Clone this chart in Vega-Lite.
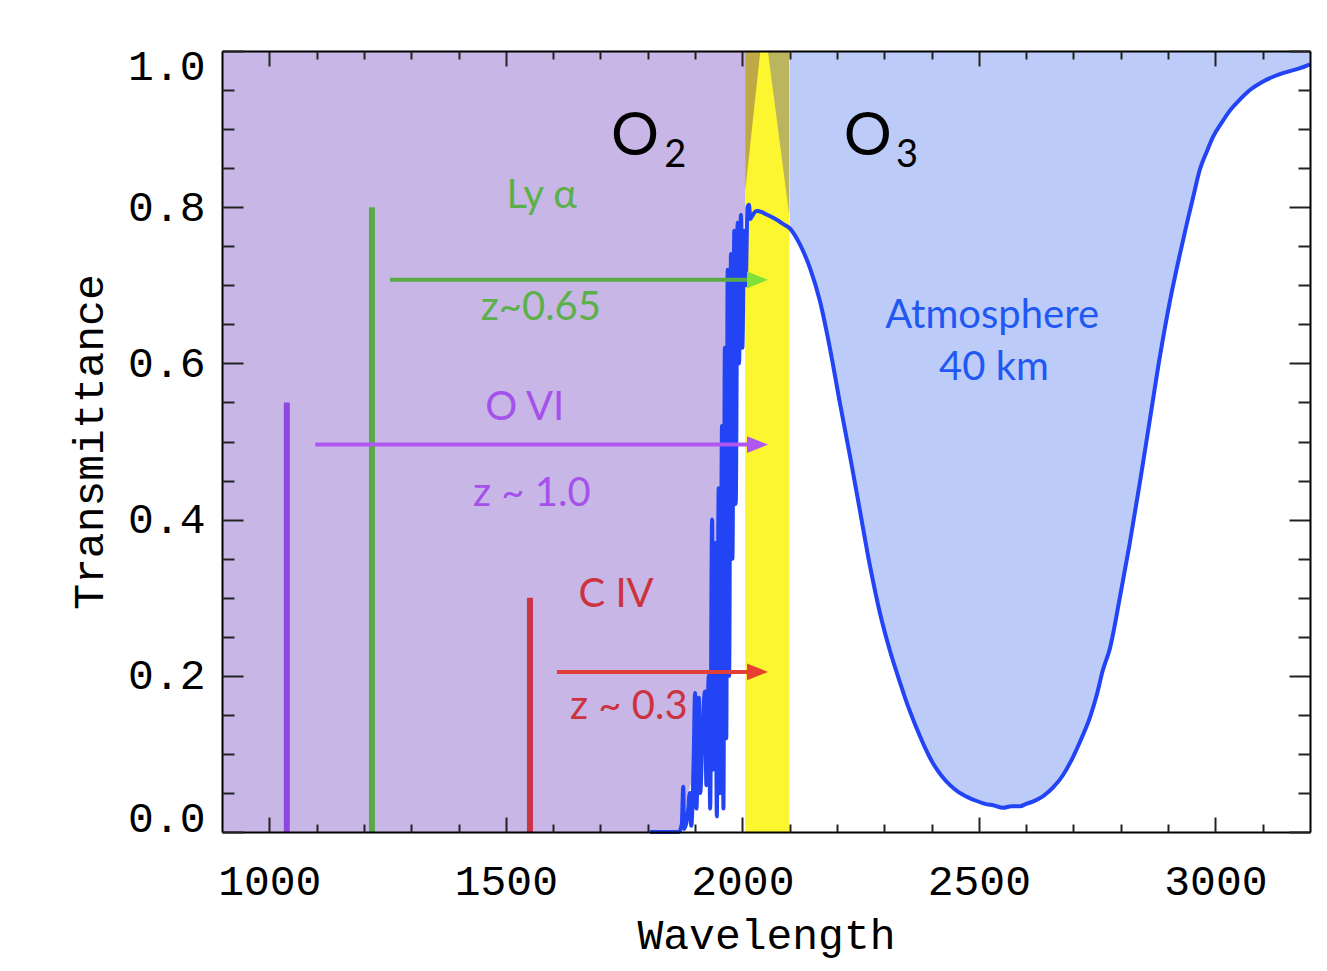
{
  "$schema": "https://vega.github.io/schema/vega-lite/v6.json",
  "width": 1088,
  "height": 781,
  "autosize": {"type": "none"},
  "padding": {"left": 222, "top": 51, "right": 17, "bottom": 139},
  "background": "white",
  "config": {"view": {"stroke": null}, "axis": {"grid": false, "zindex": 1}},
  "datasets": {
    "trans": [
      {"w":1805,"t":0},{"w":1866,"t":0},{"w":1872,"t":0.01},{"w":1875,"t":0.058},{"w":1877,"t":0.004},{"w":1884,"t":0.02},{"w":1889,"t":0.05},{"w":1892,"t":0.008},{"w":1897,"t":0.09},{"w":1900,"t":0.178},{"w":1903,"t":0.03},{"w":1908,"t":0.172},{"w":1911,"t":0.05},{"w":1916,"t":0.13},{"w":1921,"t":0.18},{"w":1924,"t":0.06},{"w":1929,"t":0.2},{"w":1932,"t":0.03},{"w":1936,"t":0.40},{"w":1939,"t":0.08},{"w":1943,"t":0.37},{"w":1946,"t":0.02},{"w":1950,"t":0.44},{"w":1953,"t":0.05},{"w":1957,"t":0.52},{"w":1960,"t":0.03},{"w":1963,"t":0.62},{"w":1966,"t":0.12},{"w":1969,"t":0.72},{"w":1972,"t":0.2},{"w":1976,"t":0.74},{"w":1979,"t":0.35},{"w":1983,"t":0.77},{"w":1986,"t":0.42},{"w":1990,"t":0.78},{"w":1993,"t":0.6},{"w":1997,"t":0.79},{"w":2000,"t":0.62},{"w":2004,"t":0.77},{"w":2007,"t":0.7},{"w":2011,"t":0.80},{"w":2014,"t":0.803},{"w":2017,"t":0.785},{"w":2022,"t":0.79},{"w":2030,"t":0.795},{"w":2040,"t":0.794},{"w":2050,"t":0.791},{"w":2060,"t":0.788},{"w":2070,"t":0.785},{"w":2080,"t":0.781},{"w":2090,"t":0.777},{"w":2100,"t":0.773},
      {"w":2122,"t":0.752},{"w":2143,"t":0.722},{"w":2164,"t":0.68},{"w":2185,"t":0.62},{"w":2206,"t":0.55},{"w":2228,"t":0.48},{"w":2249,"t":0.41},{"w":2270,"t":0.34},{"w":2291,"t":0.28},{"w":2312,"t":0.232},{"w":2333,"t":0.192},{"w":2349,"t":0.163},{"w":2365,"t":0.138},{"w":2384,"t":0.111},{"w":2403,"t":0.088},{"w":2421,"t":0.072},{"w":2439,"t":0.06},{"w":2457,"t":0.051},{"w":2475,"t":0.045},{"w":2494,"t":0.04},{"w":2513,"t":0.036},{"w":2532,"t":0.034},{"w":2551,"t":0.031},{"w":2569,"t":0.033},{"w":2587,"t":0.033},{"w":2600,"t":0.036},{"w":2614,"t":0.039},{"w":2636,"t":0.046},{"w":2657,"t":0.057},{"w":2678,"t":0.073},{"w":2699,"t":0.096},{"w":2717,"t":0.12},{"w":2735,"t":0.147},{"w":2749,"t":0.175},{"w":2762,"t":0.207},{"w":2777,"t":0.235},{"w":2798,"t":0.30},{"w":2819,"t":0.37},{"w":2841,"t":0.45},{"w":2862,"t":0.53},{"w":2883,"t":0.61},{"w":2904,"t":0.68},{"w":2925,"t":0.74},{"w":2940,"t":0.78},{"w":2953,"t":0.813},{"w":2967,"t":0.848},{"w":2981,"t":0.87},{"w":2995,"t":0.89},{"w":3013,"t":0.908},{"w":3031,"t":0.924},{"w":3052,"t":0.938},{"w":3073,"t":0.95},{"w":3098,"t":0.96},{"w":3122,"t":0.967},{"w":3150,"t":0.973},{"w":3179,"t":0.978},{"w":3196,"t":0.982},{"w":3200,"t":0.983}
    ],
    "o2fill": [
      {"w":900,"t":0},{"w":1868,"t":0},{"w":1905,"t":0.1},{"w":1931,"t":0.195},{"w":1953,"t":0.425},{"w":1991,"t":0.608},{"w":2000,"t":0.72},{"w":2006,"t":0.8}
    ],
    "band": [{"w0":2006,"w1":2099}],
    "wedges": [
      {"side":"L","w":2006,"t":0.82},{"side":"L","w":2038,"t":1.0},
      {"side":"R","w":2054,"t":1.0},{"side":"R","w":2099,"t":0.79}
    ],
    "emis": [
      {"ion":"OVI","w":1037,"top":0.55},{"ion":"Lya","w":1217,"top":0.80},{"ion":"CIV","w":1551,"top":0.30}
    ],
    "arrows": [
      {"ion":"Lya","w0":1255,"w1":2012,"head":2032,"t":0.707},
      {"ion":"OVI","w0":1097,"w1":2012,"head":2032,"t":0.496},
      {"ion":"CIV","w0":1608,"w1":2012,"head":2032,"t":0.205}
    ],
    "labels": [
      {"ion":"Lya","text":"Ly α","w":1576,"t":0.814},
      {"ion":"Lya","text":"z~0.65","w":1574,"t":0.671},
      {"ion":"OVI","text":"O VI","w":1540,"t":0.543},
      {"ion":"OVI","text":"z ~ 1.0","w":1555,"t":0.433},
      {"ion":"CIV","text":"C IV","w":1733,"t":0.303},
      {"ion":"CIV","text":"z ~ 0.3","w":1760,"t":0.160},
      {"ion":"Atm","text":"Atmosphere","w":2528,"t":0.661},
      {"ion":"Atm","text":"40 km","w":2532,"t":0.594}
    ],
    "mol": [
      {"part":"O","text":"O","w":1773,"t":0.89},
      {"part":"O","text":"O","w":2265,"t":0.89},
      {"part":"sub","text":"2","w":1858,"t":0.866},
      {"part":"sub","text":"3","w":2348,"t":0.866}
    ]
  },
  "resolve": {"axis": {"x": "independent", "y": "independent"}, "scale": {"color": "independent"}},
  "layer": [
    {
      "data": {"name": "o2fill"},
      "mark": {"type": "area", "color": "#c8b7e6", "opacity": 1},
      "encoding": {
        "x": {"field": "w", "type": "quantitative", "scale": {"domain": [900, 3200], "nice": false, "zero": false},
          "axis": {"orient": "bottom", "zindex": 2, "values": [1000,1500,2000,2500,3000], "format": "d", "ticks": false, "domain": true, "domainColor": "black", "domainWidth": 2,
            "labelFont": "Liberation Mono", "labelFontSize": 43, "labelColor": "black", "labelPadding": 28,
            "title": "Wavelength", "titleFont": "Liberation Mono", "titleFontSize": 43, "titleFontWeight": "normal", "titleColor": "black", "titlePadding": 11}},
        "y": {"field": "t", "type": "quantitative", "stack": null, "scale": {"domain": [0, 1], "nice": false, "zero": false},
          "axis": {"orient": "left", "zindex": 2, "values": [0,0.2,0.4,0.6,0.8,1], "format": ".1f", "ticks": false, "domain": true, "domainColor": "black", "domainWidth": 2,
            "labelFont": "Liberation Mono", "labelFontSize": 43, "labelColor": "black", "labelPadding": 17,
            "labelOffset": {"condition": [{"test": "datum.value == 1", "value": 15}, {"test": "datum.value == 0", "value": -14}], "value": 0},
            "title": "Transmittance", "titleFont": "Liberation Mono", "titleFontSize": 43, "titleFontWeight": "normal", "titleColor": "black", "titlePadding": 16}},
        "y2": {"datum": 1}
      }
    },
    {
      "data": {"name": "trans"},
      "transform": [{"filter": "datum.w >= 2099"}],
      "mark": {"type": "area", "color": "#bdcbf8", "opacity": 1, "interpolate": "monotone"},
      "encoding": {
        "x": {"field": "w", "type": "quantitative",
          "axis": {"orient": "bottom", "zindex": 2, "values": [1000,1500,2000,2500,3000], "labels": false, "domain": false, "tickSize": -15, "tickWidth": 2, "tickColor": "#222222", "title": null}},
        "y": {"field": "t", "type": "quantitative", "stack": null,
          "axis": {"orient": "left", "zindex": 2, "values": [0,0.2,0.4,0.6,0.8,1], "labels": false, "domain": false, "tickSize": -21, "tickWidth": 2, "tickColor": "#222222", "title": null}},
        "y2": {"datum": 1}
      }
    },
    {
      "data": {"name": "band"},
      "mark": {"type": "rect", "color": "#fcf630", "opacity": 1},
      "encoding": {
        "x": {"field": "w0", "type": "quantitative",
          "axis": {"orient": "bottom", "zindex": 2, "values": [1100,1200,1300,1400,1600,1700,1800,1900,2100,2200,2300,2400,2600,2700,2800,2900,3100], "labels": false, "domain": false, "tickSize": -8, "tickWidth": 2, "tickColor": "#222222", "title": null}},
        "x2": {"field": "w1"},
        "y": {"datum": 0, "type": "quantitative",
          "axis": {"orient": "left", "zindex": 2, "values": [0.05,0.1,0.15,0.25,0.3,0.35,0.45,0.5,0.55,0.65,0.7,0.75,0.85,0.9,0.95], "labels": false, "domain": false, "tickSize": -12, "tickWidth": 2, "tickColor": "#222222", "title": null}},
        "y2": {"datum": 1}
      }
    },
    {
      "data": {"name": "wedges"},
      "mark": {"type": "area", "opacity": 1},
      "encoding": {
        "x": {"field": "w", "type": "quantitative",
          "axis": {"orient": "top", "zindex": 2, "values": [1000,1500,2000,2500,3000], "labels": false, "domain": true, "domainColor": "black", "domainWidth": 2, "tickSize": -15, "tickWidth": 2, "tickColor": "#222222", "title": null}},
        "y": {"field": "t", "type": "quantitative", "stack": null,
          "axis": {"orient": "right", "zindex": 2, "values": [0,0.2,0.4,0.6,0.8,1], "labels": false, "domain": true, "domainColor": "black", "domainWidth": 2, "tickSize": -21, "tickWidth": 2, "tickColor": "#222222", "title": null}},
        "y2": {"datum": 1},
        "color": {"field": "side", "type": "nominal", "scale": {"domain": ["L", "R"], "range": ["#bfa845", "#bab55e"]}, "legend": null}
      }
    },
    {
      "data": {"name": "emis"},
      "mark": {"type": "rule", "strokeWidth": 6},
      "encoding": {
        "x": {"field": "w", "type": "quantitative", "axis": null},
        "y": {"field": "top", "type": "quantitative", "axis": null},
        "y2": {"datum": 0},
        "color": {"field": "ion", "type": "nominal", "scale": {"domain": ["OVI", "Lya", "CIV"], "range": ["#8e47e0", "#5aab46", "#cc3344"]}, "legend": null}
      }
    },
    {
      "data": {"name": "trans"},
      "mark": {"type": "line", "color": "#2244f5", "strokeWidth": 4, "strokeJoin": "round", "interpolate": "monotone"},
      "encoding": {
        "x": {"field": "w", "type": "quantitative",
          "axis": {"orient": "top", "zindex": 2, "values": [1100,1200,1300,1400,1600,1700,1800,1900,2100,2200,2300,2400,2600,2700,2800,2900,3100], "labels": false, "domain": false, "tickSize": -8, "tickWidth": 2, "tickColor": "#222222", "title": null}},
        "y": {"field": "t", "type": "quantitative",
          "axis": {"orient": "right", "zindex": 2, "values": [0.05,0.1,0.15,0.25,0.3,0.35,0.45,0.5,0.55,0.65,0.7,0.75,0.85,0.9,0.95], "labels": false, "domain": false, "tickSize": -12, "tickWidth": 2, "tickColor": "#222222", "title": null}}
      }
    },
    {
      "data": {"name": "arrows"},
      "mark": {"type": "rule", "strokeWidth": 4},
      "encoding": {
        "x": {"field": "w0", "type": "quantitative", "axis": null},
        "x2": {"field": "w1"},
        "y": {"field": "t", "type": "quantitative", "axis": null},
        "color": {"field": "ion", "type": "nominal", "scale": {"domain": ["OVI", "Lya", "CIV"], "range": ["#b057f2", "#5aab46", "#e04038"]}, "legend": null}
      }
    },
    {
      "data": {"name": "arrows"},
      "mark": {"type": "point", "shape": "M-1,-0.8L1,0L-1,0.8Z", "size": 441, "filled": true, "opacity": 1},
      "encoding": {
        "x": {"field": "head", "type": "quantitative", "axis": null},
        "y": {"field": "t", "type": "quantitative", "axis": null},
        "color": {"field": "ion", "type": "nominal", "scale": {"domain": ["OVI", "Lya", "CIV"], "range": ["#b057f2", "#7fe03a", "#e8402e"]}, "legend": null}
      }
    },
    {
      "data": {"name": "labels"},
      "mark": {"type": "text", "font": "Lato", "fontSize": 40, "align": "center", "baseline": "middle"},
      "encoding": {
        "x": {"field": "w", "type": "quantitative", "axis": null},
        "y": {"field": "t", "type": "quantitative", "axis": null},
        "text": {"field": "text"},
        "color": {"field": "ion", "type": "nominal", "scale": {"domain": ["Lya", "OVI", "CIV", "Atm"], "range": ["#5cb04a", "#a552ea", "#cc3340", "#1f58f3"]}, "legend": null}
      }
    },
    {
      "data": {"name": "mol"},
      "transform": [{"filter": "datum.part == 'O'"}],
      "mark": {"type": "text", "font": "Lato", "fontSize": 60, "align": "center", "baseline": "middle", "color": "black"},
      "encoding": {
        "x": {"field": "w", "type": "quantitative", "axis": null},
        "y": {"field": "t", "type": "quantitative", "axis": null},
        "text": {"field": "text"}
      }
    },
    {
      "data": {"name": "mol"},
      "transform": [{"filter": "datum.part == 'sub'"}],
      "mark": {"type": "text", "font": "Lato", "fontSize": 38, "align": "center", "baseline": "middle", "color": "black"},
      "encoding": {
        "x": {"field": "w", "type": "quantitative", "axis": null},
        "y": {"field": "t", "type": "quantitative", "axis": null},
        "text": {"field": "text"}
      }
    }
  ]
}
